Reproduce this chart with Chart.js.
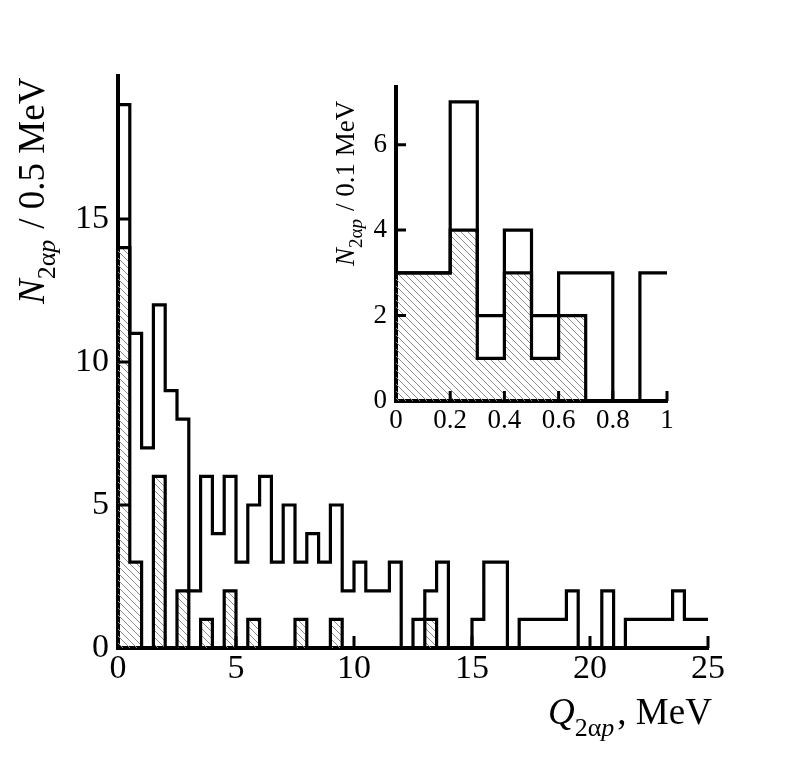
<!DOCTYPE html>
<html>
<head>
<meta charset="utf-8">
<script src="https://cdn.jsdelivr.net/npm/chart.js@4.4.0/dist/chart.umd.min.js"></script>
<style>
html,body{margin:0;padding:0;background:#fff;}
#wrap{position:relative;width:788px;height:764px;background:#fff;}
#main{position:absolute;left:0;top:0;}
#inset{position:absolute;left:310px;top:60px;}
</style>
</head>
<body>
<div id="wrap">
<canvas id="main" width="788" height="764"></canvas>
<canvas id="inset" width="380" height="400"></canvas>
</div>
<script>
// ---- data: main histogram, 0.5 MeV bins from 0 to 25 MeV ----
const mainBinWidth = 0.5;
const mainAll = [19,11,7,12,9,8,2,6,4,6,3,5,6,3,5,3,4,3,5,2,3,2,2,3,0,1,2,3,0,0,1,3,3,0,1,1,1,1,2,0,0,2,0,1,1,1,1,2,1,1];
const mainHatched = [14,3,0,6,0,2,0,1,0,2,0,1,0,0,0,1,0,0,1,0,0,0,0,0,0,0,1,0,0,0,0,0,0,0,0,0,0,0,0,0,0,0,0,0,0,0,0,0,0,0];
const mainXTicks = [0,5,10,15,20,25];
const mainXTickLabels = ['0','5','10','15','20','25'];
const mainYTicks = [0,5,10,15];
const mainYTickLabels = ['0','5','10','15'];

// ---- data: inset histogram, 0.1 MeV bins from 0 to 1 MeV ----
const insetBinWidth = 0.1;
const insetAll = [3,3,7,2,4,2,3,3,0,3];
const insetHatched = [3,3,4,1,3,1,2,0,0,0];
const insetXTicks = [0,0.2,0.4,0.6,0.8,1];
const insetXTickLabels = ['0','0.2','0.4','0.6','0.8','1'];
const insetYTicks = [0,2,4,6];
const insetYTickLabels = ['0','2','4','6'];

const SERIF = '"Liberation Serif", "DejaVu Serif", serif';

function stepPoints(values, width) {
  const pts = values.map((v, i) => ({x: i * width, y: v}));
  pts.push({x: values.length * width, y: values[values.length - 1]});
  return pts;
}

function makeHatch() {
  const s = 7;
  const c = document.createElement('canvas');
  c.width = s; c.height = s;
  const g = c.getContext('2d');
  g.strokeStyle = '#8c8c8c';
  g.lineWidth = 1;
  g.beginPath();
  g.moveTo(-1, -1); g.lineTo(s + 1, s + 1);
  g.moveTo(-1, s - 1); g.lineTo(1, s + 1);
  g.moveTo(s - 1, -1); g.lineTo(s + 1, 1);
  g.stroke();
  return g.createPattern(c, 'repeat');
}
const hatch = makeHatch();

function drawRich(ctx, parts, x, y, rot) {
  ctx.save();
  ctx.translate(x, y);
  ctx.rotate(rot);
  ctx.textBaseline = 'alphabetic';
  ctx.textAlign = 'left';
  ctx.fillStyle = '#000';
  let cx = 0;
  for (const p of parts) {
    ctx.font = p.font;
    ctx.fillText(p.text, cx, p.dy || 0);
    cx += ctx.measureText(p.text).width + (p.gap || 0);
  }
  ctx.restore();
}

function inwardTicks(xTicks, yTicks, len, lw) {
  return {
    id: 'inwardTicks',
    afterDatasetsDraw(chart) {
      const ctx = chart.ctx;
      const xs = chart.scales.x, ys = chart.scales.y;
      const a = chart.chartArea;
      ctx.save();
      ctx.strokeStyle = '#000';
      ctx.lineWidth = lw;
      ctx.lineCap = 'butt';
      ctx.beginPath();
      xTicks.forEach(v => {
        const px = xs.getPixelForValue(v);
        ctx.moveTo(px, a.bottom); ctx.lineTo(px, a.bottom - len);
      });
      yTicks.forEach(v => {
        const py = ys.getPixelForValue(v);
        ctx.moveTo(a.left, py); ctx.lineTo(a.left + len, py);
      });
      ctx.stroke();
      ctx.restore();
    }
  };
}

function histDatasets(all, hatched, width, lw) {
  return [
    {
      data: stepPoints(hatched, width),
      stepped: 'before',
      fill: 'origin',
      backgroundColor: hatch,
      borderColor: '#000',
      borderWidth: lw,
      pointRadius: 0,
      borderJoinStyle: 'miter',
      borderCapStyle: 'butt',
      order: 2
    },
    {
      data: stepPoints(all, width),
      stepped: 'before',
      fill: false,
      borderColor: '#000',
      borderWidth: lw,
      pointRadius: 0,
      borderJoinStyle: 'miter',
      borderCapStyle: 'butt',
      order: 1
    }
  ];
}

function axisOpts(min, max, ticks, labels, fontSize, pad, fitProp, fitVal, bw) {
  return {
    type: 'linear',
    min: min, max: max,
    afterBuildTicks: s => { s.ticks = ticks.map(v => ({value: v})); },
    afterFit: s => { s[fitProp] = fitVal; },
    ticks: {
      autoSkip: false,
      maxRotation: 0,
      padding: pad,
      color: '#000',
      font: {family: SERIF, size: fontSize},
      callback: (v, i) => labels[i]
    },
    grid: {display: true, drawOnChartArea: false, drawTicks: false},
    border: {display: true, color: '#000', width: bw}
  };
}

// ---- main chart ----
new Chart(document.getElementById('main'), {
  type: 'line',
  data: {datasets: histDatasets(mainAll, mainHatched, mainBinWidth, 3.2)},
  options: {
    responsive: false,
    animation: false,
    layout: {padding: {top: 76, right: 80, left: 0, bottom: 0}},
    plugins: {legend: {display: false}, tooltip: {enabled: false}},
    scales: {
      x: axisOpts(0, 25, mainXTicks, mainXTickLabels, 34, 1, 'height', 116, 4),
      y: axisOpts(0, 20, mainYTicks, mainYTickLabels, 34, 9, 'width', 118, 4)
    }
  },
  plugins: [
    inwardTicks(mainXTicks.slice(1), mainYTicks.slice(1), 12, 3),
    {
      id: 'mainTitles',
      afterDraw(chart) {
        const ctx = chart.ctx;
        drawRich(ctx, [
          {text: 'N', font: 'italic 37px ' + SERIF},
          {text: '2α', font: '26px ' + SERIF, dy: 11},
          {text: 'p', font: 'italic 26px ' + SERIF, dy: 11, gap: 11},
          {text: '/ 0.5 MeV', font: '37px ' + SERIF}
        ], 44, 304, -Math.PI / 2);
        drawRich(ctx, [
          {text: 'Q', font: 'italic 37px ' + SERIF},
          {text: '2α', font: '26px ' + SERIF, dy: 12},
          {text: 'p', font: 'italic 26px ' + SERIF, dy: 12, gap: 3},
          {text: ', MeV', font: '37px ' + SERIF}
        ], 548, 724, 0);
      }
    }
  ]
});

// ---- inset chart ----
new Chart(document.getElementById('inset'), {
  type: 'line',
  data: {datasets: histDatasets(insetAll, insetHatched, insetBinWidth, 3.2)},
  options: {
    responsive: false,
    animation: false,
    layout: {padding: {top: 27, right: 23, left: 0, bottom: 0}},
    plugins: {legend: {display: false}, tooltip: {enabled: false}},
    scales: {
      x: axisOpts(0, 1, insetXTicks, insetXTickLabels, 27, 4, 'height', 59, 4),
      y: axisOpts(0, 7.35, insetYTicks, insetYTickLabels, 27, 9, 'width', 86, 4)
    }
  },
  plugins: [
    inwardTicks(insetXTicks.slice(1), insetYTicks.slice(1), 10, 3),
    {
      id: 'insetTitles',
      afterDraw(chart) {
        drawRich(chart.ctx, [
          {text: 'N', font: 'italic 27px ' + SERIF},
          {text: '2α', font: '19px ' + SERIF, dy: 8},
          {text: 'p', font: 'italic 19px ' + SERIF, dy: 8, gap: 8},
          {text: '/ 0.1 MeV', font: '27px ' + SERIF}
        ], 44, 206, -Math.PI / 2);
      }
    }
  ]
});
</script>
</body>
</html>
